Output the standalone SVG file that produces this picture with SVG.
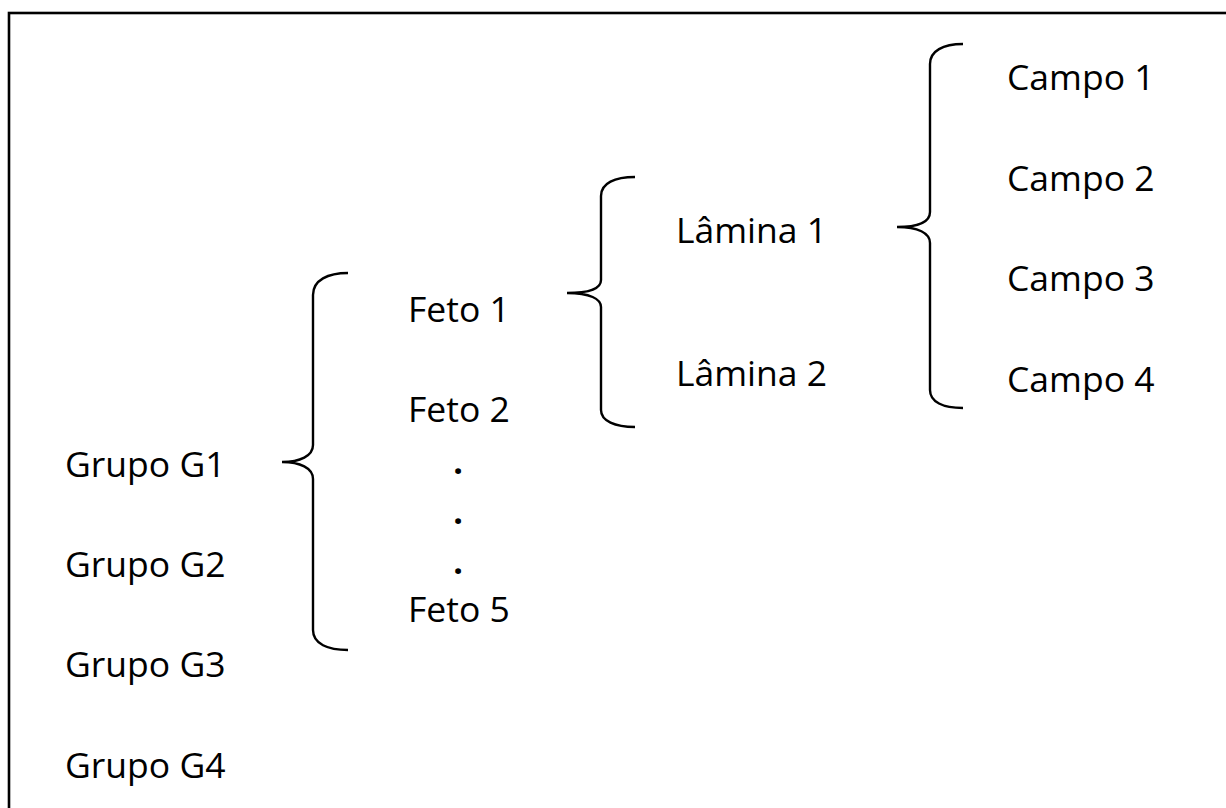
<svg xmlns="http://www.w3.org/2000/svg" width="1226" height="808" viewBox="0 0 1226 808">
<style>
text{font-family:"Open Sans","Noto Sans",sans-serif;font-size:35.5px;fill:#000}
.dot{font-size:34px;font-weight:bold}
.br{fill:none;stroke:#000;stroke-width:2.4}
</style>
<rect x="0" y="0" width="1226" height="808" fill="#fff"/>
<rect x="9" y="13" width="1240" height="900" fill="none" stroke="#000" stroke-width="2.6"/>
<g id="connectors">
<path class="br" d="M348,273 C328,273 313,280 313,295 L313,445 C313,456 300,462 282,462 C300,462 313,468 313,479 L313,630 C313,644 328,650 348,650"/>
<path class="br" d="M635,177 C615,177 601,183 601,196 L601,280 C601,288 590,293 567,293 C590,293 601,299 601,307 L601,410 C601,421 615,427 635,427"/>
<path class="br" d="M963,44 C943,44 930,51 930,64 L930,212 C930,222 918,227 897,227 C918,227 930,233 930,243 L930,390 C930,402 943,408 963,408"/>
</g>
<g id="grupo-g1"><text x="65" y="477">Grupo G1</text></g>
<g id="grupo-g2"><text x="65" y="577">Grupo G2</text></g>
<g id="grupo-g3"><text x="65" y="677">Grupo G3</text></g>
<g id="grupo-g4"><text x="65" y="778">Grupo G4</text></g>
<g id="feto-1"><text x="408" y="322">Feto 1</text></g>
<g id="feto-2"><text x="408" y="422">Feto 2</text></g>
<g id="dots"><text class="dot" x="458" y="474" text-anchor="middle">.</text><text class="dot" x="458" y="524" text-anchor="middle">.</text><text class="dot" x="458" y="574" text-anchor="middle">.</text></g>
<g id="feto-5"><text x="408" y="622">Feto 5</text></g>
<g id="lamina-1"><text x="676" y="243">Lâmina 1</text></g>
<g id="lamina-2"><text x="676" y="386">Lâmina 2</text></g>
<g id="campo-1"><text x="1007" y="90">Campo 1</text></g>
<g id="campo-2"><text x="1007" y="191">Campo 2</text></g>
<g id="campo-3"><text x="1007" y="291">Campo 3</text></g>
<g id="campo-4"><text x="1007" y="392">Campo 4</text></g>
</svg>
